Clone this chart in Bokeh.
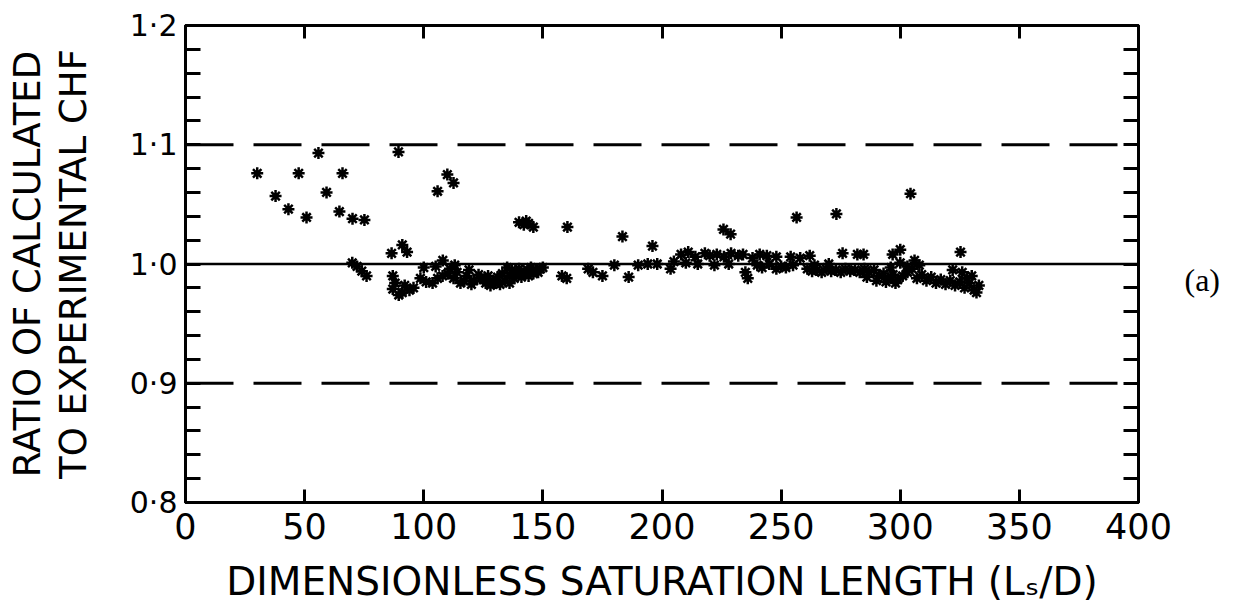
import math
from bokeh.plotting import figure
from bokeh.models import LinearAxis, FixedTicker, Span, ColumnDataSource
from bokeh.embed import file_html
from bokeh.resources import INLINE

# ---------------- data ----------------
x_ticks = [0, 50, 100, 150, 200, 250, 300, 350, 400]
y_major = [0.8, 0.9, 1.0, 1.1, 1.2]
y_minor = [0.82, 0.84, 0.86, 0.88, 0.92, 0.94, 0.96, 0.98,
           1.02, 1.04, 1.06, 1.08, 1.12, 1.14, 1.16, 1.18]
y_tick_labels = ["0·8", "0·9", "1·0", "1·1", "1·2"]
ref_lines = [0.9, 1.1]
ideal_line = 1.0

ls_d = [
    30.1, 37.8, 43.2, 47.5, 50.8, 55.8, 59.2, 64.6, 65.9, 70.1, 75.1, 89.4, 105.8, 109.9, 112.5,
    91, 93, 86.5, 140, 142, 144, 146, 143, 160.3, 183.4, 196, 225.8, 228.8, 256.5, 273.2, 304.3,
    300, 296.8, 325.3, 284.6, 275.8, 282,
    70, 72, 74, 76,
    87, 88, 87, 91, 89.5, 95.7, 98.6, 103.7, 105.8, 107.9, 100, 108, 111, 114, 112.5, 115.4,
    118, 121, 124, 126, 128, 131, 133, 135, 136, 139, 141, 143.5, 146, 148, 136, 158, 160,
    169, 171, 175,
    92, 94, 101, 110, 117, 120, 123, 125, 127, 129, 130, 132, 134, 137, 138, 140, 142, 144,
    145, 147, 149, 150, 113, 105, 119,
    186, 194, 203.6, 235, 236,
    180, 190, 198, 205, 208, 211, 214, 218, 220, 223, 226, 229, 232, 234, 238, 241, 244, 248,
    254, 258, 262, 210, 215, 222, 228, 240, 245, 250, 255, 242, 248, 252,
    261, 263, 265, 267, 269, 271, 273, 275, 277, 279, 281, 283, 285, 287, 289, 291, 293, 295,
    297, 299, 286, 290, 294, 298, 301, 303, 305, 307, 309, 311, 313, 315, 317, 319, 321, 323,
    325, 327, 329, 331, 332, 330, 326, 322, 333, 328, 303, 308, 264, 270, 296, 300, 306,
]
ratio = [
    1.076, 1.057, 1.046, 1.076, 1.039, 1.093, 1.060, 1.044, 1.076, 1.038, 1.037, 1.094, 1.061, 1.075, 1.068,
    1.016, 1.010, 1.009, 1.035, 1.033, 1.034, 1.031, 1.036, 1.031, 1.023, 1.015, 1.029, 1.025, 1.039, 1.042, 1.059,
    1.012, 1.008, 1.010, 1.008, 1.009, 1.008,
    1.001, 0.998, 0.994, 0.990,
    0.990, 0.984, 0.979, 0.976, 0.974, 0.980, 0.988, 0.984, 0.988, 0.990, 0.997, 1.003, 0.996, 0.993, 0.988, 0.984,
    0.990, 0.986, 0.988, 0.984, 0.982, 0.989, 0.992, 0.997, 0.990, 0.993, 0.989, 0.995, 0.992, 0.993, 0.984, 0.990, 0.988,
    0.996, 0.993, 0.990,
    0.982, 0.978, 0.985, 0.992, 0.986, 0.983, 0.991, 0.987, 0.990, 0.986, 0.984, 0.983, 0.986, 0.995, 0.988, 0.996, 0.992, 0.990,
    0.997, 0.995, 0.996, 0.997, 0.999, 0.998, 0.995,
    0.989, 1.000, 0.996, 0.993, 0.988,
    0.999, 0.999, 1.000, 1.002, 1.008, 1.010, 1.006, 1.009, 1.007, 1.008, 1.006, 1.009, 1.007, 1.008, 1.005, 1.008, 1.007, 1.006,
    1.006, 1.005, 1.007, 1.001, 1.000, 0.999, 1.000, 0.999, 1.000, 0.998, 0.999, 0.997, 0.996, 0.997,
    0.996, 0.994, 0.995, 0.993, 0.996, 0.994, 0.995, 0.993, 0.996, 0.994, 0.995, 0.993, 0.996, 0.993, 0.995, 0.990, 0.992, 0.988,
    0.991, 0.987, 0.989, 0.986, 0.985, 0.984, 0.990, 0.993, 0.996, 0.988, 0.991, 0.986, 0.989, 0.984, 0.987, 0.983, 0.986, 0.982,
    0.985, 0.980, 0.984, 0.978, 0.976, 0.990, 0.993, 0.995, 0.982, 0.988, 0.998, 0.999, 0.999, 1.000, 0.997, 1.001, 1.003,
]

x_title = "DIMENSIONLESS SATURATION LENGTH (Lₛ/D)"
y_title_1 = "RATIO OF CALCULATED"
y_title_2 = "TO EXPERIMENTAL CHF"
panel_tag = "(a)"
panel_tag_at = 0.987

FONT = "DejaVu Sans"

# ---------------- figure ----------------
p = figure(width=1233, height=616, x_range=(0, 400), y_range=(0.8, 1.2),
           x_axis_type=None, y_axis_type=None,
           output_backend="svg", toolbar_location=None,
           min_border_left=185, min_border_right=95,
           min_border_top=25, min_border_bottom=114)
p.grid.visible = False
p.outline_line_color = "black"
p.outline_line_width = 3
p.background_fill_color = "white"
p.border_fill_color = "white"

label_map = {v: t for v, t in zip(y_major, y_tick_labels)}


def make_y_axis(show_labels):
    ax = LinearAxis(ticker=FixedTicker(ticks=y_major, minor_ticks=y_minor))
    ax.axis_line_width = 3
    ax.major_tick_in = 15
    ax.major_tick_out = 0
    ax.minor_tick_in = 15
    ax.minor_tick_out = 0
    ax.major_tick_line_width = 3
    ax.minor_tick_line_width = 3
    if show_labels:
        ax.major_label_overrides = label_map
        ax.major_label_text_font = FONT
        ax.major_label_text_font_size = "30px"
        ax.major_label_text_color = "black"
        ax.major_label_standoff = 8
    else:
        ax.major_label_text_font_size = "0px"
        ax.major_label_text_color = None
        ax.major_label_standoff = 0
    return ax


def make_x_axis(show_labels):
    ax = LinearAxis(ticker=FixedTicker(ticks=x_ticks))
    ax.axis_line_width = 3
    ax.major_tick_in = 13
    ax.major_tick_out = 0
    ax.minor_tick_in = 0
    ax.minor_tick_out = 0
    ax.major_tick_line_width = 3
    if show_labels:
        ax.major_label_text_font = FONT
        ax.major_label_text_font_size = "35px"
        ax.major_label_text_color = "black"
        ax.major_label_standoff = 10
    else:
        ax.major_label_text_font_size = "0px"
        ax.major_label_text_color = None
        ax.major_label_standoff = 0
    return ax


def title_axis(text, standoff, size):
    ax = LinearAxis(ticker=FixedTicker(ticks=[]))
    ax.axis_line_color = None
    ax.major_tick_line_color = None
    ax.minor_tick_line_color = None
    ax.major_tick_out = 0
    ax.major_tick_in = 0
    ax.minor_tick_out = 0
    ax.minor_tick_in = 0
    ax.major_label_text_font_size = "0px"
    ax.major_label_standoff = 0
    ax.axis_label = text
    ax.axis_label_text_font = FONT
    ax.axis_label_text_font_size = size
    ax.axis_label_text_font_style = "normal"
    ax.axis_label_text_color = "black"
    ax.axis_label_standoff = standoff
    return ax


# left: tick axis carries the inner title line, an extra axis the outer line
left_ax = make_y_axis(True)
left_ax.axis_label = y_title_2
left_ax.axis_label_text_font = FONT
left_ax.axis_label_text_font_size = "37px"
left_ax.axis_label_text_font_style = "normal"
left_ax.axis_label_text_color = "black"
left_ax.axis_label_standoff = 32
p.add_layout(left_ax, "left")
p.add_layout(title_axis(y_title_1, 0, "37px"), "left")

p.add_layout(make_y_axis(False), "right")

# panel tag "(a)" as a horizontal label on an extra right axis
tag_ax = LinearAxis(ticker=FixedTicker(ticks=[panel_tag_at]))
tag_ax.major_label_overrides = {panel_tag_at: panel_tag}
tag_ax.axis_line_color = None
tag_ax.major_tick_line_color = None
tag_ax.major_tick_in = 0
tag_ax.major_tick_out = 0
tag_ax.minor_tick_line_color = None
tag_ax.minor_tick_in = 0
tag_ax.minor_tick_out = 0
tag_ax.major_label_orientation = "horizontal"
tag_ax.major_label_text_font = "Liberation Serif"
tag_ax.major_label_text_font_size = "32px"
tag_ax.major_label_text_color = "black"
tag_ax.major_label_standoff = 46
p.add_layout(tag_ax, "right")

bottom_ax = make_x_axis(True)
bottom_ax.axis_label = x_title
bottom_ax.axis_label_text_font = FONT
bottom_ax.axis_label_text_font_size = "39px"
bottom_ax.axis_label_text_font_style = "normal"
bottom_ax.axis_label_text_color = "black"
bottom_ax.axis_label_standoff = 17
p.add_layout(bottom_ax, "below")
p.add_layout(make_x_axis(False), "above")

# reference lines
for loc in ref_lines:
    p.add_layout(Span(location=loc, dimension="width", line_color="black",
                      line_width=3, line_dash="48 20"))
p.add_layout(Span(location=ideal_line, dimension="width", line_color="black", line_width=2.5))

# data points
src = ColumnDataSource(dict(x=ls_d, y=ratio))
p.scatter("x", "y", source=src, marker="asterisk", size=12, line_width=2.5, color="black")
p.scatter("x", "y", source=src, marker="circle", size=5, color="black")

open("out.html", "w").write(file_html(p, INLINE))
